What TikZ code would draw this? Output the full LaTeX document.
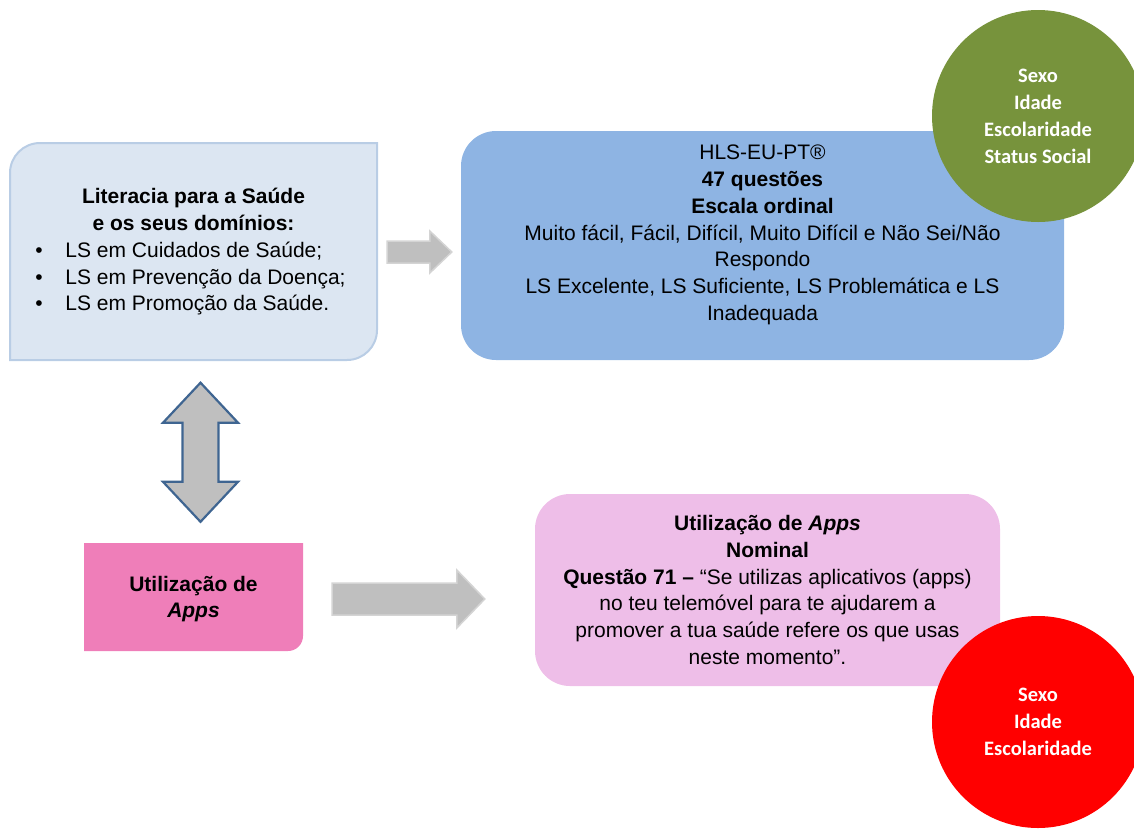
\documentclass[tikz,border=0pt]{standalone}
\usepackage{fontspec}
\setmainfont{Liberation Sans}
\newfontfamily\circfont{Carlito}
\usepackage{tikz}
\usetikzlibrary{calc,positioning}
\definecolor{litfill}{HTML}{DCE6F2}
\definecolor{litline}{HTML}{B9CDE5}
\definecolor{hlsblue}{HTML}{8EB4E3}
\definecolor{appspink}{HTML}{EF7EB9}
\definecolor{questpink}{HTML}{EEBEE8}
\definecolor{olive}{HTML}{77933C}
\definecolor{arrowgray}{HTML}{BFBFBF}
\definecolor{arrowline}{HTML}{D4D4D4}
\definecolor{darkblue}{HTML}{3F6591}
\tikzset{
  txt/.style={text=black, font=\fontsize{21}{26.8}\selectfont, align=center, inner sep=0pt},
  box/.style={inner sep=0pt, rounded corners=35pt},
  demo/.style={circle, minimum size=212pt, inner sep=0pt, text=white,
    font=\circfont\bfseries\fontsize{20.5}{27}\selectfont, align=center},
  litbg/.style={fill=litfill, draw=litline, line width=2pt},
  blockarrow/.style={fill=arrowgray, draw=arrowline, line width=1.5pt, line join=miter},
  dblarrow/.style={fill=arrowgray, draw=darkblue, line width=2.2pt, line join=miter},
}

\begin{document}
\begin{tikzpicture}[x=1pt,y=1pt]
  \useasboundingbox (0,0) rectangle (1134,-828);

  % literacia box (two round corners)
  \draw[litbg] (10,-360) -- (10,-173) arc[start angle=180,end angle=90,radius=30]
    -- (377,-143) -- (377,-330) arc[start angle=0,end angle=-90,radius=30] -- cycle;
  \node[txt, minimum width=367pt, minimum height=217pt] (lit) at (193.5,-252) {%
    \begin{tabular}{@{}l@{}}
      \multicolumn{1}{@{}c@{}}{\bfseries Literacia para a Saúde}\\
      \multicolumn{1}{@{}c@{}}{\bfseries e os seus domínios:}\\
      \makebox[24pt][l]{\kern-6pt•}LS em Cuidados de Saúde;\\
      \makebox[24pt][l]{\kern-6pt•}LS em Prevenção da Doença;\\
      \makebox[24pt][l]{\kern-6pt•}LS em Promoção da Saúde.
    \end{tabular}};

  % HLS box
  \node[box, fill=hlsblue, minimum width=603pt, minimum height=229pt] (hls) at (762.5,-245.5) {};
  \node[txt] (hlstxt) at ($(hls)+(0,10.5)$) {HLS-EU-PT®\\
    \textbf{47 questões}\\
    \textbf{Escala ordinal}\\
    Muito fácil, Fácil, Difícil, Muito Difícil e Não Sei/Não\\
    Respondo\\
    LS Excelente, LS Suficiente, LS Problemática e LS\\
    Inadequada};

  % apps box (one round corner)
  \fill[appspink] (84,-543) -- (303,-543) -- (303,-636)
    arc[start angle=0,end angle=-90,radius=15] -- (84,-651) -- cycle;
  \node[txt, minimum width=219pt, minimum height=108pt] (apps) at (193.5,-599)
    {\textbf{Utilização de}\\\textbf{\textit{Apps}}};

  % question box
  \node[box, txt, fill=questpink, minimum width=465pt, minimum height=192pt] (quest) at (767.5,-590) {%
    \textbf{Utilização de \textit{Apps}}\\
    \textbf{Nominal}\\
    \textbf{Questão 71 –} “Se utilizas aplicativos (apps)\\
    no teu telemóvel para te ajudarem a\\
    promover a tua saúde refere os que usas\\
    neste momento”.};

  % variables
  \node[demo, fill=olive] (demo1) at (1038,-116) {Sexo\\Idade\\Escolaridade\\Status Social};
  \node[demo, fill=red] (demo2) at (1038,-722) {Sexo\\Idade\\Escolaridade};

  % block arrows
  \coordinate (a1s) at ($(lit.east)+(10,0)$);
  \coordinate (a1e) at ($(hls.west |- lit.east)+(-9,0)$);
  \draw[blockarrow] ($(a1s)+(0,11)$) -- ($(a1e)+(-22,11)$) -- ($(a1e)+(-22,21)$) -- (a1e)
    -- ($(a1e)+(-22,-21)$) -- ($(a1e)+(-22,-11)$) -- ($(a1s)+(0,-11)$) -- cycle;

  \coordinate (a2s) at ($(apps.east)+(29,0)$);
  \coordinate (a2e) at ($(quest.west |- a2s)+(-50,0)$);
  \draw[blockarrow] ($(a2s)+(0,16)$) -- ($(a2e)+(-28,16)$) -- ($(a2e)+(-28,29)$) -- (a2e)
    -- ($(a2e)+(-28,-29)$) -- ($(a2e)+(-28,-16)$) -- ($(a2s)+(0,-16)$) -- cycle;

  \coordinate (d1) at ($(lit.south)+(7,-22)$);
  \coordinate (d2) at ($(apps.north)+(7,23)$);
  \draw[dblarrow] (d1) -- ($(d1)+(37.5,-40)$) -- ($(d1)+(18,-40)$) -- ($(d2)+(18,40)$)
    -- ($(d2)+(37.5,40)$) -- (d2) -- ($(d2)+(-37.5,40)$) -- ($(d2)+(-18,40)$)
    -- ($(d1)+(-18,-40)$) -- ($(d1)+(-37.5,-40)$) -- cycle;
\end{tikzpicture}
\end{document}
